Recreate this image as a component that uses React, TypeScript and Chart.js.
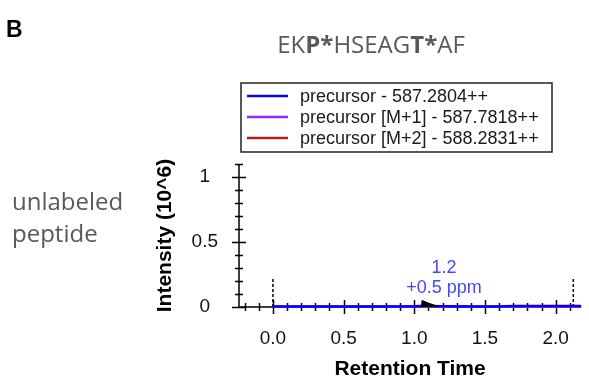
import React, { useEffect, useRef } from "react";
import { Chart, registerables } from "chart.js";

Chart.register(...registerables);

// ---------- data ----------
const panelLetter = "B";
const peptideParts = [
  { text: "EK", bold: false },
  { text: "P*", bold: true },
  { text: "HSEAG", bold: false },
  { text: "T*", bold: true },
  { text: "AF", bold: false },
];
const sampleLabel = ["unlabeled", "peptide"];
const seriesLabels = [
  "precursor - 587.2804++",
  "precursor [M+1] - 587.7818++",
  "precursor [M+2] - 588.2831++",
];
const seriesColors = ["#0000ff", "#8f2bff", "#b02020"];

const retentionTimes = [0, 0.2, 0.4, 0.6, 0.8, 1.0, 1.05, 1.1, 1.2, 1.4, 1.6, 1.7, 1.8, 2.0, 2.1, 2.18];
const precursorValues = [0.004, 0.004, 0.004, 0.004, 0.004, 0.005, 0.007, 0.008, 0.006, 0.004, 0.004, 0.007, 0.008, 0.008, 0.007, 0.007];
const m1Values = [0.002, 0.002, 0.002, 0.002, 0.002, 0.003, 0.004, 0.004, 0.003, 0.002, 0.002, 0.003, 0.004, 0.004, 0.003, 0.003];
const m2Values = [0.001, 0.001, 0.001, 0.001, 0.001, 0.002, 0.002, 0.002, 0.002, 0.001, 0.001, 0.002, 0.002, 0.002, 0.002, 0.002];

const peakRT = [1.05, 1.055, 1.1, 1.17];
const peakValues = [0, 0.05, 0.03, 0.004];

const boundaryRT = [0, 2.125];
const boundaryHeight = 0.22;

const peakLabel = ["1.2", "+0.5 ppm"];
const peakLabelRT = 1.21;
const peakLabelY = [0.3, 0.146];

const xMin = -0.24;
const xMax = 2.18;
const yMin = 0;
const yMax = 1.1;
const xStep = 0.5;
const yStep = 0.5;
const minorStep = 0.1;
const xTitle = "Retention Time";
const yTitle = "Intensity (10^6)";

// ---------- styles ----------
const SANS = "'Liberation Sans', Arial, sans-serif";
const HUMAN = "'Open Sans', 'Noto Sans', sans-serif";

const decorPlugin = {
  id: "decor",
  beforeDatasetsDraw(chart: any) {
    const ctx = chart.ctx;
    const xs = chart.scales.x;
    const ys = chart.scales.y;
    const y0 = ys.getPixelForValue(yMin);
    const yTop = ys.getPixelForValue(yMax);
    const xl = xs.getPixelForValue(xMin);
    const xr = xs.getPixelForValue(xMax);
    ctx.save();
    ctx.strokeStyle = "#000";
    ctx.lineWidth = 1.5;
    ctx.beginPath();
    ctx.moveTo(xl, y0);
    ctx.lineTo(xr, y0);
    ctx.moveTo(xl, y0);
    ctx.lineTo(xl, yTop);
    ctx.stroke();
    ctx.lineWidth = 1.5;
    ctx.beginPath();
    for (let i = Math.ceil(xMin / minorStep); i * minorStep <= xMax; i++) {
      const v = i * minorStep;
      const major = i % 5 === 0;
      const len = major ? 7 : 4;
      const px = Math.round(xs.getPixelForValue(v)) + 0.5;
      ctx.moveTo(px, y0 - len);
      ctx.lineTo(px, y0 + len);
    }
    for (let i = 0; i * minorStep <= yMax + 1e-9; i++) {
      const v = i * minorStep;
      const major = i % 5 === 0;
      const len = major ? 7 : 4;
      const py = Math.round(ys.getPixelForValue(v)) + 0.5;
      ctx.moveTo(xl - len, py);
      ctx.lineTo(xl + len, py);
    }
    ctx.stroke();
    ctx.restore();
  },
  afterDraw(chart: any) {
    const ctx = chart.ctx;
    const xs = chart.scales.x;
    const ys = chart.scales.y;
    ctx.save();

    // panel letter
    ctx.fillStyle = "#000";
    ctx.font = `bold 23px ${SANS}`;
    ctx.textBaseline = "alphabetic";
    ctx.textAlign = "left";
    ctx.fillText(panelLetter, 6, 37);

    // peptide title
    const fontFor = (b: boolean) => `${b ? "bold " : ""}24px ${HUMAN}`;
    let total = 0;
    for (const p of peptideParts) {
      ctx.font = fontFor(p.bold);
      total += ctx.measureText(p.text).width;
    }
    let x = 371 - total / 2;
    ctx.fillStyle = "#595959";
    for (const p of peptideParts) {
      ctx.font = fontFor(p.bold);
      ctx.fillText(p.text, x, 53);
      x += ctx.measureText(p.text).width;
    }

    // sample label
    ctx.font = `24px ${HUMAN}`;
    ctx.fillStyle = "#595959";
    ctx.fillText(sampleLabel[0], 12, 210);
    ctx.fillText(sampleLabel[1], 12, 242);

    // legend
    const bx = 241, by = 83, bw = 311, bh = 69;
    ctx.fillStyle = "#fff";
    ctx.fillRect(bx, by, bw, bh);
    ctx.strokeStyle = "#222";
    ctx.lineWidth = 1.5;
    ctx.strokeRect(bx, by, bw, bh);
    ctx.font = `18px ${SANS}`;
    ctx.textBaseline = "middle";
    seriesLabels.forEach((lab, i) => {
      const ry = 96 + i * 21;
      ctx.strokeStyle = seriesColors[i];
      ctx.lineWidth = 2.5;
      ctx.beginPath();
      ctx.moveTo(247, ry);
      ctx.lineTo(288, ry);
      ctx.stroke();
      ctx.fillStyle = "#1a1a1a";
      ctx.fillText(lab, 300, ry + 1);
    });

    // peak annotation
    ctx.fillStyle = "#4646ff";
    ctx.font = `18px ${SANS}`;
    ctx.textAlign = "center";
    ctx.textBaseline = "middle";
    const px = xs.getPixelForValue(peakLabelRT);
    peakLabel.forEach((t, i) => {
      ctx.fillText(t, px, ys.getPixelForValue(peakLabelY[i]));
    });
    ctx.restore();
  },
};

export default function App() {
  const ref = useRef<HTMLCanvasElement | null>(null);
  useEffect(() => {
    if (!ref.current) return;
    const toXY = (xsArr: number[], ysArr: number[]) => xsArr.map((v, i) => ({ x: v, y: ysArr[i] }));
    const datasets: any[] = [
      {
        label: "peak",
        data: toXY(peakRT, peakValues),
        borderColor: "#000",
        backgroundColor: "#000",
        borderWidth: 1,
        fill: "origin",
        pointRadius: 0,
        tension: 0,
        clip: false,
        order: 0,
      },
      ...seriesLabels.map((lab, i) => ({
        label: lab,
        data: toXY(retentionTimes, [precursorValues, m1Values, m2Values][i]),
        borderColor: seriesColors[i],
        backgroundColor: seriesColors[i],
        borderWidth: 2.5,
        pointRadius: 0,
        fill: false,
        tension: 0,
        clip: false,
        order: 1 + i,
      })),
      ...boundaryRT.map((rt) => ({
        label: "boundary",
        data: [
          { x: rt, y: 0 },
          { x: rt, y: boundaryHeight },
        ],
        borderColor: "#000",
        borderWidth: 1.5,
        borderDash: [3, 2],
        pointRadius: 0,
        fill: false,
        clip: false,
        order: 10,
      })),
    ];
    const chart = new Chart(ref.current, {
      type: "line",
      data: { datasets },
      plugins: [decorPlugin],
      options: {
        animation: false,
        responsive: false,
        devicePixelRatio: 1,
        layout: { padding: { left: 153, right: 2, top: 164, bottom: 0 } },
        plugins: { legend: { display: false }, tooltip: { enabled: false } },
        scales: {
          x: {
            type: "linear",
            min: xMin,
            max: xMax,
            grid: { display: false, drawTicks: false },
            border: { display: false },
            ticks: {
              stepSize: xStep,
              includeBounds: false,
              autoSkip: false,
              maxRotation: 0,
              padding: 20,
              color: "#111",
              font: { family: SANS, size: 19 },
              callback: (v: any) => Number(v).toFixed(1),
            },
            title: {
              display: true,
              text: xTitle,
              color: "#000",
              font: { family: SANS, size: 21, weight: "bold", lineHeight: 1.0 },
              padding: 0,
            },
            afterFit: (s: any) => {
              s.height = 73;
            },
          },
          y: {
            type: "linear",
            min: yMin,
            max: yMax,
            grid: { display: false, drawTicks: false },
            border: { display: false },
            ticks: {
              stepSize: yStep,
              includeBounds: false,
              crossAlign: "center",
              padding: 21,
              color: "#111",
              font: { family: SANS, size: 19 },
              callback: (v: any) => String(Number(v)),
            },
            title: {
              display: true,
              text: yTitle,
              color: "#000",
              font: { family: SANS, size: 21, weight: "bold", lineHeight: 1.2 },
              padding: 0,
            },
            afterFit: (s: any) => {
              s.width = 86;
            },
          },
        },
      } as any,
    });
    return () => chart.destroy();
  }, []);
  return (
    <div style={{ position: "absolute", left: 0, top: 0, width: 589, height: 380, background: "#fff" }}>
      <canvas ref={ref} width={589} height={380} />
    </div>
  );
}
